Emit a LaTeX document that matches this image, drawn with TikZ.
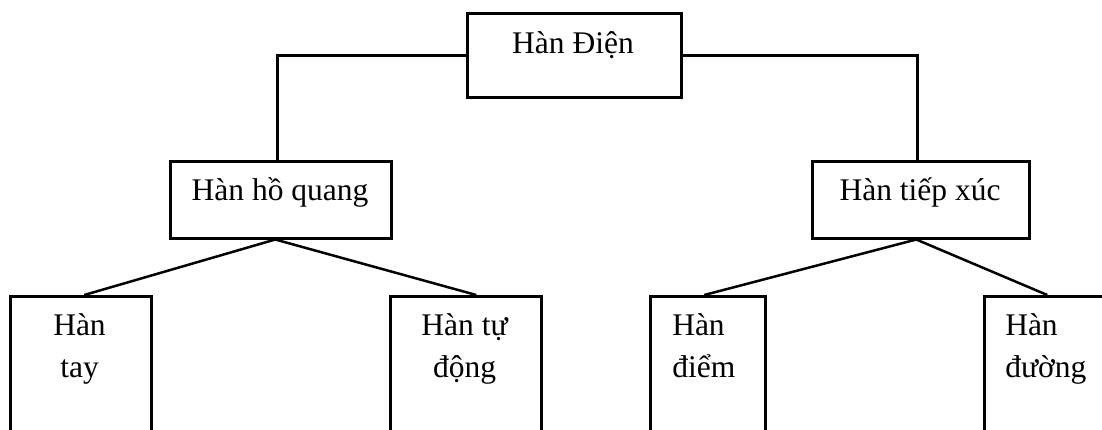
\documentclass[tikz,border=0pt]{standalone}
\usepackage{fontspec}
\setmainfont{Liberation Serif}
\begin{document}
\begin{tikzpicture}[x=1pt,y=-1pt,line width=2.5pt,
  box/.style={draw,line width=2.5pt,anchor=north west,inner sep=0pt},
  txt/.style={inner sep=0pt,font=\fontsize{31.5}{42}\selectfont},
  link/.style={draw,line width=2.5pt}]
  % page frame
  \path[use as bounding box] (0,0) rectangle (1102,429);
  \clip (0,0) rectangle (1102,429);

  % boxes
  \node[box,minimum width=214pt,minimum height=84pt] (dien) at (466,12) {};
  \node[box,minimum width=221pt,minimum height=77pt] (hq) at (169,160) {};
  \node[box,minimum width=217pt,minimum height=77pt] (tx) at (811,160) {};
  \node[box,minimum width=141pt,minimum height=150pt] (tay) at (9,295) {};
  \node[box,minimum width=151pt,minimum height=150pt] (td) at (389,295) {};
  \node[box,minimum width=115pt,minimum height=150pt] (diem) at (649,295) {};
  \node[box,minimum width=130pt,minimum height=150pt] (duong) at (983,295) {};

  % labels (two-line labels are anchored at their last baseline)
  \node[txt,anchor=base] (tdien) at (573,53) {Hàn Điện};
  \node[txt,anchor=base] (thq) at (280,200) {Hàn hồ quang};
  \node[txt,anchor=base] (ttx) at (920,200) {Hàn tiếp xúc};
  \node[txt,anchor=base,align=center] (ttay) at (79.5,377) {Hàn\\tay};
  \node[txt,anchor=base,align=center] (ttd) at (464.5,377) {Hàn tự\\động};
  \node[txt,anchor=base west,align=left] (tdiem) at (671,377) {Hàn\\điểm};
  \node[txt,anchor=base west,align=left] (tduong) at (1004,377) {Hàn\\đường};

  % connectors
  \draw[link] (dien.west) -| ([xshift=-3.5pt]hq.north);
  \draw[link] (dien.east) -| ([xshift=-3.5pt]tx.north);
  \draw[link] ([xshift=-5.5pt]hq.south) -- ([xshift=3.5pt]tay.north);
  \draw[link] ([xshift=-5.5pt]hq.south) -- ([xshift=10.5pt]td.north);
  \draw[link] ([xshift=-4.5pt]tx.south) -- ([xshift=-3.5pt]diem.north);
  \draw[link] ([xshift=-4.5pt]tx.south) -- ([xshift=-2pt]duong.north);
\end{tikzpicture}
\end{document}
